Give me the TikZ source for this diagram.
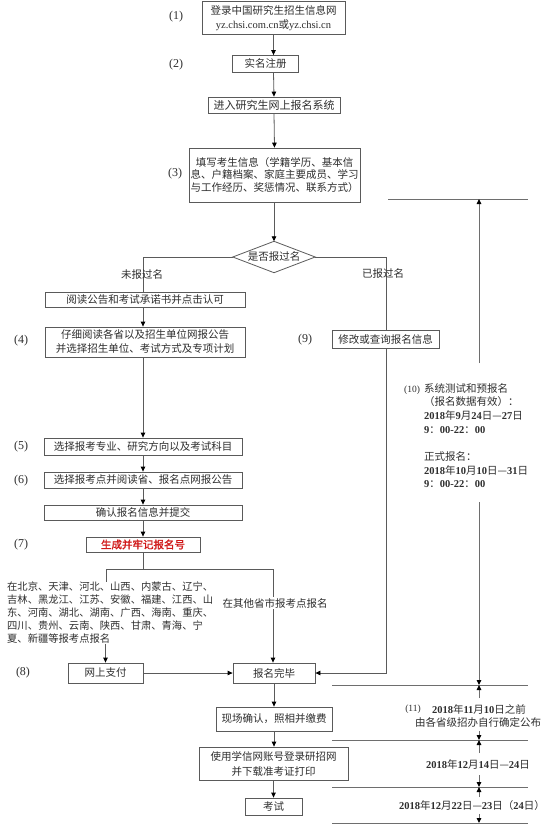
\documentclass[tikz,border=0pt]{standalone}
\usepackage{fontspec}
\setmainfont{Noto Sans CJK SC}
\newfontfamily\lat{Liberation Serif}
\newfontfamily\redfnt[FakeBold=1.6]{Noto Sans CJK SC}
\usetikzlibrary{arrows.meta}
\definecolor{lnc}{HTML}{5A5A5A}
\definecolor{tlc}{HTML}{6E6E6E}
\definecolor{txc}{HTML}{2E2E2E}
\definecolor{redc}{HTML}{D01818}
\newcommand\dg[1]{{\lat #1}}
\newcommand\dd[1]{{\lat\bfseries #1}}
\begin{document}
\begin{tikzpicture}[x=1pt,y=-1pt,
  every node/.style={text=txc, font=\fontsize{10.5}{13.5}\selectfont, inner sep=0pt},
  box/.style={draw=lnc, line width=0.8pt, align=center},
  lab/.style={font=\lat\fontsize{12}{12}\selectfont},
  wire/.style={draw=lnc, line width=0.8pt},
  arr/.style={draw=lnc, line width=0.8pt, -{Triangle[length=5pt,width=4.5pt,color=black]}},
  tline/.style={draw=tlc, line width=1pt},
  tarr/.style={draw=tlc, line width=1pt, -{Triangle[length=5pt,width=4.5pt,color=black]}},
]
\useasboundingbox (0,0) rectangle (556,824);
\fill[white] (0,0) rectangle (556,824);

% ---- main column ----
\node[box, minimum width=143, minimum height=33, font=\fontsize{10.5}{14.5}\selectfont] (b1) at (273.5,18) {登录中国研究生招生信息网\\\dg{yz.chsi.com.cn}或\dg{yz.chsi.cn}};
\node[lab] (l1) at (176,17) {(1)};
\node[box, minimum width=66, minimum height=17] (b2) at (265.5,64) {实名注册};
\node[lab] (l2) at (176,65) {(2)};
\node[box, minimum width=132, minimum height=16, font=\fontsize{11}{13}\selectfont] (b3) at (274,105) {进入研究生网上报名系统};
\node[box, minimum width=171, minimum height=54, font=\fontsize{10.5}{12.5}\selectfont] (b4) at (274.5,175) {填写考生信息（学籍学历、基本信\\息、户籍档案、家庭主要成员、学习\\与工作经历、奖惩情况、联系方式）};
\node[lab] (l3) at (175,174) {(3)};
\node[minimum width=82, minimum height=31] (d) at (274,257) {是否报过名};
\draw[wire] (d.north) -- (d.east) -- (d.south) -- (d.west) -- cycle;

\draw[arr] (b1.south) -- (b1.south |- b2.north);
\draw[arr] (b1.south |- b2.south) -- (b3.north);
\draw[arr] (b3.south) -- (b4.north);
\draw[arr] (b4.south -| d.north) -- (d.north);

% ---- left branch ----
\node[box, minimum width=200, minimum height=15] (b5) at (145,300) {阅读公告和考试承诺书并点击认可};
\node[box, minimum width=200, minimum height=30, font=\fontsize{10.5}{14}\selectfont] (b6) at (145,342) {仔细阅读各省以及招生单位网报公告\\并选择招生单位、考试方式及专项计划};
\node[lab] (l4) at (21,341) {(4)};
\node[box, minimum width=198, minimum height=17] (b7) at (143,446.5) {选择报考专业、研究方向以及考试科目};
\node[lab] (l5) at (21,447) {(5)};
\node[box, minimum width=198, minimum height=16] (b8) at (143,480) {选择报考点并阅读省、报名点网报公告};
\node[lab] (l6) at (21,481) {(6)};
\node[box, minimum width=198, minimum height=15] (b9) at (143,512.5) {确认报名信息并提交};
\node[box, minimum width=114, minimum height=15, text=redc] (b10) at (143,544.5) {\redfnt 生成并牢记报名号};
\node[lab] (l7) at (21,545) {(7)};

\coordinate (dl) at (143,257);
\draw[wire] (d.west) -- (dl) -- (dl |- b5.north);
\node (wb) at (142,275) {未报过名};
\draw[arr] (dl |- b5.south) -- (dl |- b6.north);
\draw[arr] (b9.north |- b6.south) -- (b7.north);
\draw[arr] (b7.south) -- (b8.north);
\draw[arr] (b8.south) -- (b9.north);
\draw[arr] (b9.south) -- (b10.north);

% ---- split after (7) ----
\coordinate (j) at (143,569);
\coordinate (jl) at (106,569);
\coordinate (jr) at (273,569);
\draw[wire] (b10.south) -- (j);
\draw[wire] (jl) -- (jr);
\node[anchor=north west, align=left, font=\fontsize{10.3}{13}\selectfont] (prov) at (7,582) {在北京、天津、河北、山西、内蒙古、辽宁、\\吉林、黑龙江、江苏、安徽、福建、江西、山\\东、河南、湖北、湖南、广西、海南、重庆、\\四川、贵州、云南、陕西、甘肃、青海、宁\\夏、新疆等报考点报名};
\draw[wire] (jl) -- (jl |- prov.north);
\node[box, minimum width=75, minimum height=20] (b11) at (105.5,673) {网上支付};
\node[lab] (l8) at (23,673) {(8)};
\draw[arr] (prov.south -| b11.north) -- (b11.north);
\node[box, minimum width=82, minimum height=20] (b12) at (274,673) {报名完毕};
\draw[arr] (jr) -- (jr |- b12.north);
\node[fill=white, inner sep=1pt] (oth) at (275,603) {在其他省市报考点报名};
\draw[arr] (b11.east) -- (b12.west);

% ---- right branch ----
\coordinate (dr) at (386,257);
\node[box, minimum width=107, minimum height=18] (b9r) at (385.5,339) {修改或查询报名信息};
\node[lab] (l9) at (305,340) {(9)};
\draw[wire] (d.east) -- (dr) -- (dr |- b9r.north);
\node (yb) at (383,274) {已报过名};
\coordinate (rr) at (386,673);
\draw[arr] (dr |- b9r.south) -- (rr) -- (b12.east);

% ---- lower column ----
\node[box, minimum width=116, minimum height=24] (b13) at (274,719) {现场确认，照相并缴费};
\node[box, minimum width=149, minimum height=33, font=\fontsize{10.5}{15}\selectfont] (b14) at (273.5,763.5) {使用学信网账号登录研招网\\并下载准考证打印};
\node[box, minimum width=57, minimum height=17] (b15) at (273.5,806.5) {考试};
\draw[arr] (b12.south) -- (b13.north);
\draw[arr] (b13.south) -- (b13.south |- b14.north);
\draw[arr] (b14.south) -- (b15.north);

% ---- timeline ----
\coordinate (t0a) at (388,199); \coordinate (t0b) at (528,199);
\coordinate (t1a) at (332,685); \coordinate (t1b) at (528,685);
\coordinate (t2a) at (332,740); \coordinate (t2b) at (528,740);
\coordinate (t3a) at (332,787); \coordinate (t3b) at (528,787);
\coordinate (t4a) at (332,823); \coordinate (t4b) at (528,823);
\draw[tline] (t0a) -- (t0b);
\draw[tline] (t1a) -- (t1b);
\draw[tline] (t2a) -- (t2b);
\draw[tline] (t3a) -- (t3b);
\draw[tline] (t4a) -- (t4b);

\coordinate (u10) at (479,363);
\draw[tarr] (u10) -- (u10 |- t0a);
\node[font=\lat\fontsize{9.5}{9.5}\selectfont] (l10) at (412,390) {(10)};
\node[anchor=north west, align=left, font=\fontsize{10.5}{13.7}\selectfont] (n10) at (424,383) {系统测试和预报名\\（报名数据有效）：\\\dd{2018}年\dd{9}月\dd{24}日—\dd{27}日\\\dd{9}：\dd{00-22}：\dd{00}\\[13.7pt]正式报名：\\\dd{2018}年\dd{10}月\dd{10}日—\dd{31}日\\\dd{9}：\dd{00-22}：\dd{00}};
\coordinate (d10) at (479,502);
\draw[tarr] (d10) -- (d10 |- t1a);

\coordinate (u11) at (479,698);
\draw[tarr] (u11) -- (u11 |- t1a);
\node[font=\lat\fontsize{9.5}{9.5}\selectfont] (l11) at (413,709) {(11)};
\node (n11a) at (479,709) {\dd{2018}年\dd{11}月\dd{10}日之前};
\node (n11b) at (478,722) {由各省级招办自行确定公布};
\coordinate (d11) at (479,731);
\draw[tarr] (d11) -- (d11 |- t2a);

\coordinate (u12) at (479,753);
\draw[tarr] (u12) -- (u12 |- t2a);
\node (n12) at (478,764) {\dd{2018}年\dd{12}月\dd{14}日—\dd{24}日};
\coordinate (d12) at (479,775);
\draw[tarr] (d12) -- (d12 |- t3a);

\coordinate (u13) at (479,797);
\draw[tarr] (u13) -- (u13 |- t3a);
\node (n13) at (472,806) {\dd{2018}年\dd{12}月\dd{22}日—\dd{23}日（\dd{24}日）};
\coordinate (d13) at (479,814);
\draw[tarr] (d13) -- (d13 |- t4a);
\end{tikzpicture}
\end{document}
